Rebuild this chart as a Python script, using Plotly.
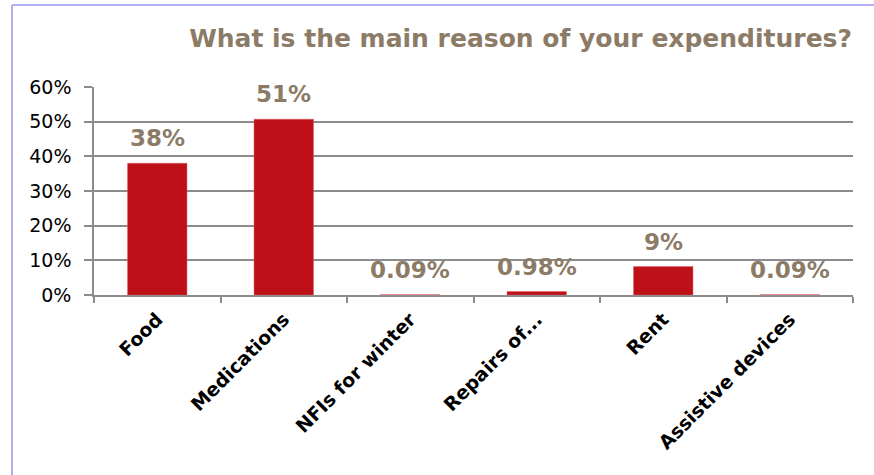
import plotly.graph_objects as go

categories = ["Food", "Medications", "NFIs for winter", "Repairs of...", "Rent", "Assistive devices"]
values = [38.0, 50.7, 0.09, 0.98, 8.2, 0.09]
value_labels = ["38%", "51%", "0.09%", "0.98%", "9%", "0.09%"]
y_ticks = [0, 10, 20, 30, 40, 50, 60]
y_tick_labels = ["0%", "10%", "20%", "30%", "40%", "50%", "60%"]

W, H = 874, 475
L, R, T, B = 94, 21, 87, 180
pw, ph = W - L - R, H - T - B

fig = go.Figure()
fig.add_trace(go.Bar(
    x=categories, y=values,
    marker=dict(color="#BE1018", line=dict(color="#E06060", width=0.5)),
    width=0.47,
    hoverinfo="x+y",
))

for c, v, t in zip(categories, values, value_labels):
    fig.add_annotation(x=c, y=v, text="<b>%s</b>" % t, showarrow=False,
                       yanchor="bottom", yshift=10,
                       font=dict(family="DejaVu Sans", size=23, color="#8B7B67"))

grid_col = "#8C8C8C"
fig.update_layout(
    width=W, height=H,
    margin=dict(l=L, r=R, t=T, b=B, autoexpand=False),
    paper_bgcolor="white", plot_bgcolor="white",
    showlegend=False,
    title=dict(text="<b>What is the main reason of your expenditures?</b>",
               x=852 / W, xanchor="right", xref="container",
               y=1 - 38 / H, yanchor="middle", yref="container",
               font=dict(family="DejaVu Sans", size=25, color="#8B7B67")),
    xaxis=dict(
        showline=True, linecolor=grid_col, linewidth=1.5,
        ticks="outside", tickson="boundaries", ticklen=6, tickcolor=grid_col, tickwidth=1.5,
        tickangle=-45, ticklabelstandoff=4,
        tickfont=dict(family="DejaVu Sans", size=19, color="black", weight="bold"),
        range=[-0.5, 5.5],
    ),
    yaxis=dict(
        range=[0, 60], tickvals=y_ticks, ticktext=y_tick_labels,
        showline=True, linecolor=grid_col, linewidth=1.5,
        showgrid=True, gridcolor=grid_col, gridwidth=1.5,
        ticks="outside", ticklen=8, tickcolor=grid_col, tickwidth=1.5,
        ticklabelstandoff=9,
        tickfont=dict(family="DejaVu Sans", size=19, color="black"),
        zeroline=False,
    ),
)

# chart frame (left and top border)
fig.add_shape(type="line", xref="paper", yref="paper",
              x0=(12 - L) / pw, x1=(12 - L) / pw, y0=1 + (T - 5) / ph, y1=1 - (H - T) / ph,
              line=dict(color="#B0B0F4", width=2))
fig.add_shape(type="line", xref="paper", yref="paper",
              x0=(12 - L) / pw, x1=(W - L) / pw, y0=1 + (T - 5) / ph, y1=1 + (T - 5) / ph,
              line=dict(color="#B0B0F4", width=2))

fig.write_html("out.html", config={"displayModeBar": False},
               post_script="document.body.style.margin='0';")
